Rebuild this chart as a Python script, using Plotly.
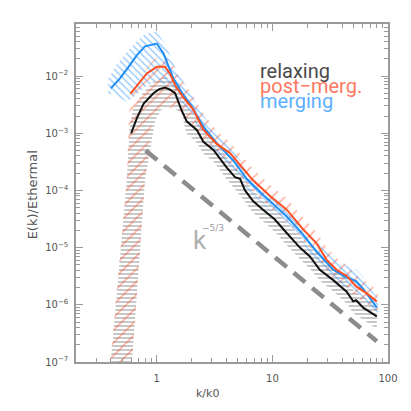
import plotly.graph_objects as go

# ---- spectra (k/k0, E(k)/Ethermal) ----
k_relax = [0.6, 0.67, 0.77, 0.935, 1.05, 1.18, 1.3, 1.44, 1.64, 1.82, 2.22, 2.53, 3.09, 3.52,
           4.03, 4.75, 5.25, 5.8, 6.8, 8.3, 10.5, 13.3, 17.3, 21.1, 25.7, 33.6, 43.9, 50, 53, 61, 80]
e_relax = [1.0e-3, 1.8e-3, 3.3e-3, 5.0e-3, 5.9e-3, 6.3e-3, 5.8e-3, 5.0e-3, 2.5e-3, 1.6e-3,
           1.14e-3, 7.1e-4, 5.1e-4, 3.6e-4, 2.5e-4, 1.7e-4, 1.6e-4, 1.0e-4, 6.5e-5, 4.6e-5,
           3.1e-5, 1.8e-5, 1.0e-5, 7.0e-6, 4.1e-6, 2.7e-6, 1.7e-6, 1.15e-6, 1.2e-6, 8.9e-7, 6.3e-7]

k_post = [0.59, 0.69, 0.82, 1.0, 1.18, 1.3, 1.44, 1.7, 2.07, 2.53, 3.3, 4.3, 5.25, 6.8, 9.6,
          13.3, 18.4, 24, 29.5, 35.9, 43.9, 53, 65, 80]
e_post = [4.9e-3, 7.4e-3, 1.11e-2, 1.45e-2, 1.45e-2, 1.1e-2, 6.9e-3, 4.2e-3, 2.6e-3, 1.15e-3,
          6.5e-4, 4.5e-4, 2.8e-4, 1.5e-4, 7.9e-5, 4.6e-5, 2.1e-5, 1.2e-5, 6.1e-6, 4.1e-6,
          3.2e-6, 2.1e-6, 1.6e-6, 1.15e-6]

k_merg = [0.40, 0.48, 0.57, 0.67, 0.79, 1.0, 1.14, 1.26, 1.39, 1.64, 2.0, 2.53, 3.3, 4.6, 6.0,
          8.0, 9.6, 13.3, 18.4, 24, 33.6, 43.9, 53, 61, 72, 80]
e_merg = [6.1e-3, 9.1e-3, 1.45e-2, 2.3e-2, 3.3e-2, 3.7e-2, 2.5e-2, 1.5e-2, 9.1e-3, 5.2e-3,
          3.0e-3, 1.3e-3, 6.7e-4, 3.3e-4, 1.6e-4, 9.0e-5, 6.5e-5, 3.5e-5, 1.7e-5, 8.5e-6,
          4.1e-6, 3.0e-6, 2.6e-6, 1.9e-6, 1.2e-6, 8.9e-7]

# ---- spread bands (upper edge left->right, lower edge right->left) ----
relax_up_k = [0.36, 0.40, 0.55, 0.58, 0.62, 0.75, 0.97, 1.18, 1.35, 1.5, 1.8, 2.2, 2.5, 3.1, 3.5,
              4.0, 4.75, 5.8, 6.8, 8.3, 10.5, 13.3, 17.3, 21, 26, 34, 44, 50, 61, 80]
relax_up_e = [1.5e-8, 1e-7, 1.5e-4, 1.2e-3, 2.6e-3, 5e-3, 8.5e-3, 9.7e-3, 8.5e-3, 6e-3, 3.2e-3,
              1.9e-3, 1.2e-3, 8e-4, 5.6e-4, 3.9e-4, 2.6e-4, 1.6e-4, 1.0e-4, 7.2e-5, 4.8e-5,
              2.8e-5, 1.6e-5, 1.1e-5, 6.4e-6, 4.2e-6, 2.7e-6, 1.8e-6, 1.4e-6, 1.0e-6]
relax_lo_k = [80, 61, 50, 44, 34, 26, 21, 17.3, 13.3, 10.5, 8.3, 6.8, 5.8, 4.75, 4.0, 3.5, 3.1,
              2.5, 2.2, 1.8, 1.64, 1.35, 1.1, 0.97, 0.79, 0.61, 0.57]
relax_lo_e = [3.8e-7, 5.5e-7, 7.2e-7, 1.05e-6, 1.7e-6, 2.6e-6, 4.3e-6, 6.3e-6, 1.1e-5, 1.9e-5,
              2.9e-5, 4.1e-5, 6.3e-5, 1.05e-4, 1.6e-4, 2.3e-4, 3.2e-4, 4.5e-4, 7e-4, 1.0e-3,
              2.2e-3, 3.0e-3, 2.6e-3, 1.7e-3, 1.5e-4, 1e-7, 1.5e-8]

post_up_k = [0.355, 0.395, 0.55, 0.57, 0.59, 0.65, 0.79, 0.935, 1.14, 1.35, 1.6, 2.0, 2.5, 3.3,
             4.3, 5.25, 6.8, 9.6, 13.3, 18.4, 24, 29.5, 36, 44, 53, 65, 82]
post_up_e = [1.5e-8, 1e-7, 1.5e-4, 1.5e-3, 3.5e-3, 6.9e-3, 1.26e-2, 1.9e-2, 2.3e-2, 1.7e-2, 9e-3,
             5e-3, 2.3e-3, 1.1e-3, 7e-4, 4.4e-4, 2.4e-4, 1.25e-4, 7.3e-5, 3.4e-5, 1.9e-5, 1.0e-5,
             6.5e-6, 5e-6, 3.3e-6, 2.5e-6, 1.8e-6]
post_lo_k = [82, 65, 53, 44, 36, 29.5, 24, 18.4, 13.3, 9.6, 6.8, 5.25, 4.3, 3.3, 2.5, 2.0, 1.6,
             1.3, 1.0, 0.88, 0.79, 0.61, 0.56]
post_lo_e = [7.5e-7, 1.05e-6, 1.35e-6, 2.0e-6, 2.6e-6, 3.9e-6, 7.5e-6, 1.35e-5, 2.9e-5, 5e-5,
             9.5e-5, 1.75e-4, 2.8e-4, 4.2e-4, 7.2e-4, 1.5e-3, 2.4e-3, 2.8e-3, 2.2e-3, 1.2e-3,
             1.5e-4, 1e-7, 1.5e-8]

merg_band_k = [0.38, 0.45, 0.55, 0.65, 0.8, 1.0, 1.2, 1.4, 1.7, 2.0, 2.5, 3.3, 4.6, 6.0, 8.0, 10,
               13, 18, 24, 34, 44, 53, 62, 72, 82]
merg_up_e = [9e-3, 1.6e-2, 2.6e-2, 3.8e-2, 5.6e-2, 5.9e-2, 3.5e-2, 1.6e-2, 8e-3, 4.6e-3, 2.1e-3,
             1.0e-3, 4.8e-4, 2.4e-4, 1.35e-4, 8.8e-5, 5.2e-5, 2.6e-5, 1.3e-5, 6.3e-6, 4.8e-6,
             4.2e-6, 3.0e-6, 1.8e-6, 1.3e-6]
merg_lo_e = [5.0e-3, 4.5e-3, 3.5e-3, 4.5e-3, 6.5e-3, 8.5e-3, 7e-3, 5e-3, 3.2e-3, 2.0e-3, 9.5e-4,
             4.7e-4, 2.3e-4, 1.1e-4, 6.2e-5, 4.1e-5, 2.5e-5, 1.25e-5, 5.9e-6, 2.9e-6, 2.0e-6,
             1.7e-6, 1.3e-6, 8.5e-7, 6.2e-7]

# k^-5/3 guide
k_ref = [0.8, 80]
e_ref = [5.0e-4, 2.3e-7]

# axis ticks
x_ticks = [1, 10, 100]
x_labels = ["1", "10", "100"]
y_ticks = [1e-7, 1e-6, 1e-5, 1e-4, 1e-3, 1e-2]
y_labels = ["10<sup>\u22127</sup>", "10<sup>\u22126</sup>", "10<sup>\u22125</sup>",
            "10<sup>\u22124</sup>", "10<sup>\u22123</sup>", "10<sup>\u22122</sup>"]
# minor tick positions for the log axes (2..9 of each decade)
x_minor = [m * 10.0 ** d for d in (-1, 0, 1) for m in range(2, 10)]
y_minor = [m * 10.0 ** d for d in range(-7, -1) for m in range(2, 10)]

c_relax = "#111111"
c_post = "#ff5022"
c_merg = "#1e8ff5"
clear = "rgba(0,0,0,0)"

fig = go.Figure()

fig.add_trace(go.Scatter(x=relax_up_k + relax_lo_k, y=relax_up_e + relax_lo_e, fill="toself",
                         mode="none", fillcolor=clear,
                         fillpattern=dict(shape="-", fgcolor="#444444", bgcolor=clear,
                                          size=4, solidity=0.3)))
fig.add_trace(go.Scatter(x=post_up_k + post_lo_k, y=post_up_e + post_lo_e, fill="toself",
                         mode="none", fillcolor=clear,
                         fillpattern=dict(shape="/", fgcolor="#ff5530", bgcolor=clear,
                                          size=9, solidity=0.17)))
fig.add_trace(go.Scatter(x=merg_band_k + merg_band_k[::-1], y=merg_up_e + merg_lo_e[::-1],
                         fill="toself", mode="none", fillcolor=clear,
                         fillpattern=dict(shape="\\", fgcolor="#2490ff", bgcolor=clear,
                                          size=5, solidity=0.27)))

fig.add_trace(go.Scatter(x=k_ref, y=e_ref, mode="lines",
                         line=dict(color="#8c8c8c", width=4.5, dash="15px,9px")))

fig.add_trace(go.Scatter(x=k_merg, y=e_merg, mode="lines", line=dict(color=c_merg, width=2)))
fig.add_trace(go.Scatter(x=k_post, y=e_post, mode="lines", line=dict(color=c_post, width=2)))
fig.add_trace(go.Scatter(x=k_relax, y=e_relax, mode="lines", line=dict(color=c_relax, width=2)))

axis_style = dict(type="log", showgrid=False, zeroline=False, showline=True, linecolor="#9a9a9a",
                  linewidth=1.5, mirror="ticks", ticks="inside", ticklen=7, tickcolor="#9a9a9a",
                  tickwidth=1, tickmode="array",
                  tickfont=dict(family="DejaVu Sans", size=10, color="#555555"))

fig.update_xaxes(axis_style, range=[-0.699, 2], tickvals=x_ticks, ticktext=x_labels,
                 ticklabelstandoff=6,
                 minor=dict(ticks="inside", ticklen=4, tickcolor="#9a9a9a", tickmode="array",
                            tickvals=x_minor, showgrid=False))
fig.update_yaxes(axis_style, range=[-7, -1.09], tickvals=y_ticks, ticktext=y_labels,
                 ticklabelstandoff=4,
                 minor=dict(ticks="inside", ticklen=4, tickcolor="#9a9a9a", tickmode="array",
                            tickvals=y_minor, showgrid=False))

txt = dict(showarrow=False, xref="paper", yref="paper", xanchor="left", yanchor="middle",
           borderpad=0)
leg_font = dict(family="Roboto", size=20)
fig.add_annotation(txt, x=0.585, y=0.861, text="relaxing", font=dict(leg_font, color="#4a4a4a"))
fig.add_annotation(txt, x=0.585, y=0.817, text="post\u2212merg.", font=dict(leg_font, color="#ff7862"))
fig.add_annotation(txt, x=0.585, y=0.772, text="merging", font=dict(leg_font, color="#5cb0ff"))

fig.add_annotation(txt, x=0.374, y=-4.86, xref="x", yref="y", xanchor="center", text="k",
                   font=dict(family="Roboto", size=26, color="#b0b0b0"))
fig.add_annotation(txt, x=0.49, y=-4.66, xref="x", yref="y", xanchor="center", text="\u22125/3",
                   font=dict(family="DejaVu Sans", size=9, color="#999999"))

fig.add_annotation(txt, x=0.42, y=-0.07, xanchor="center", yanchor="top", text="k/k0",
                   font=dict(family="DejaVu Sans", size=11, color="#555555"))
fig.add_annotation(txt, x=-0.14, y=0.494, xanchor="center", textangle=-90, text="E(k)/Ethermal",
                   font=dict(family="DejaVu Sans", size=13, color="#555555"))

# page body adds an 8px offset, so the figure is 403 px to fit the 411 px window
fig.update_layout(width=403, height=403, margin=dict(l=68, r=23, t=16, b=49),
                  paper_bgcolor="white", plot_bgcolor="white", showlegend=False)

fig.write_html("out.html")
